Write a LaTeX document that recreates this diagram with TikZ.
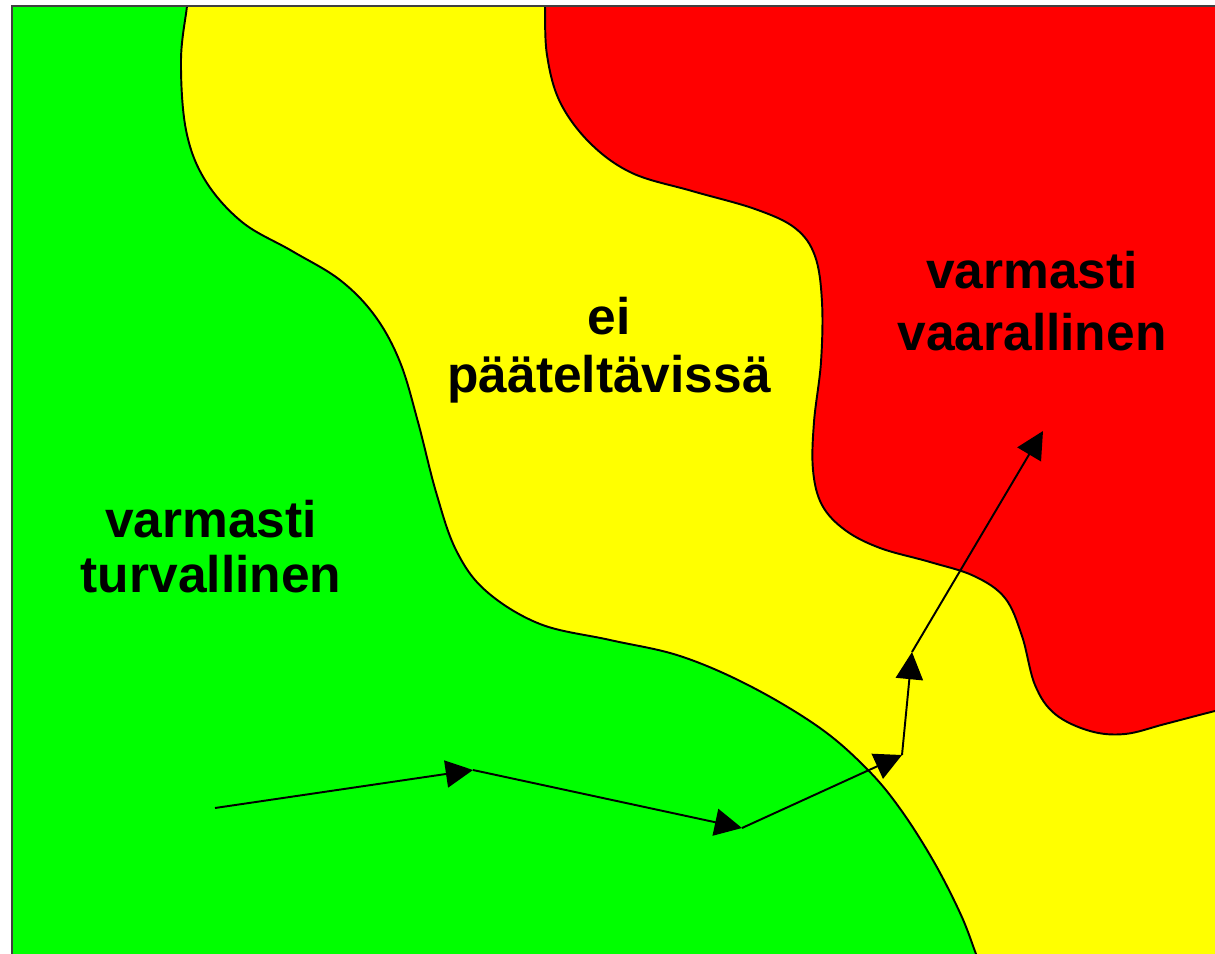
\documentclass[tikz,border=0pt]{standalone}
\usepackage{fontspec}
\setmainfont{Liberation Sans}
\usetikzlibrary{arrows.meta}
\definecolor{safegreen}{RGB}{0,255,0}
\definecolor{unsure}{RGB}{255,255,0}
\definecolor{danger}{RGB}{255,0,0}
\newcommand\greenedge{plot[smooth,tension=.6] coordinates {(188,-10) (187,6) (181,60) (186,130) (205,180) (242,222) (292,251) (340,280) (375,316) (400,362) (418,422) (436,492) (456,550) (486,591) (540,624) (610,640) (680,656) (750,686) (820,728) (868,770) (901,810) (934,862) (961,915) (976,954) (984,975)}}
\newcommand\rededge{plot[smooth,tension=.6] coordinates {(545,-10) (545,6) (547,55) (560,102) (590,143) (632,173) (692,191) (755,209) (795,228) (815,256) (822,302) (821,362) (814,422) (813,470) (822,505) (845,530) (880,548) (930,562) (974,576) (1005,598) (1022,636) (1035,685) (1055,714) (1090,731) (1125,734) (1165,724) (1215,711) (1235,707)}}
\tikzset{lab/.style={font=\fontsize{29.3}{35}\selectfont\bfseries,inner sep=0pt,anchor=base},
  vec/.style={line width=1.1pt,-{Triangle[length=15.5pt,width=15.5pt]}},
  edge/.style={line width=1.1pt}}
\begin{document}
\begin{tikzpicture}[x=.02cm,y=-.02cm]
  \useasboundingbox (0,0) rectangle (1215,954);
  \begin{scope}
    \clip (12,6) rectangle (1215,954);
    \fill[unsure] (0,0) rectangle (1215,954);
    \filldraw[edge,fill=safegreen] \greenedge -- (0,980) -- (0,-10) -- cycle;
    \filldraw[edge,fill=danger] \rededge -- (1235,-10) -- cycle;
  \end{scope}
  \draw[line width=1.5pt,black!75] (12,954) -- (12,6) -- (1215,6);
  % zone labels
  \node[lab] (safeA) at (211,537) {varmasti};
  \node[lab] (safeB) at (211,592) {turvallinen};
  \node[lab] (openA) at (609,334) {ei};
  \node[lab] (openB) at (609,392) {pääteltävissä};
  \node[lab] (riskA) at (1032,288) {varmasti};
  \node[lab] (riskB) at (1032,350) {vaarallinen};
  % path of the state
  \coordinate (P0) at (215,808); \coordinate (P1) at (473,770);
  \coordinate (P2) at (742,828); \coordinate (P3) at (902,755);
  \coordinate (P4) at (912,652); \coordinate (P5) at (1043,431);
  \foreach \a/\b in {P0/P1,P1/P2,P2/P3,P3/P4,P4/P5} \draw[vec] (\a)--(\b);
\end{tikzpicture}
\end{document}
